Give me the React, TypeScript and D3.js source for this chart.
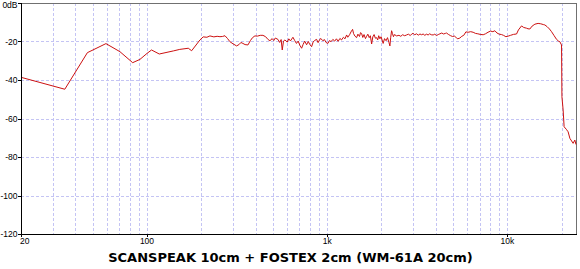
import React from "react";
import * as d3 from "d3";

const freqs: number[] = [
  20, 35, 46.7, 59.2, 70.8, 83.3, 91.4, 100, 106, 117, 140, 152, 169.5, 176.9, 196.7,
  205, 215, 223.5, 235, 245, 254, 262, 270.8, 280, 288.6, 300, 314.4, 325, 332, 340.6, 350, 363.1,
  375, 385, 397, 410, 425, 439.8, 455, 470, 481, 495, 505, 515, 532.6, 545, 555, 562.9, 572, 582.6,
  600, 612, 625, 645.3, 660, 675, 690, 705, 721, 735, 750, 768.4, 785, 800, 819.2, 835, 850, 873,
  890, 905, 920, 946, 965, 985, 1008, 1030, 1050, 1075, 1100, 1125, 1150, 1176, 1200, 1230, 1255,
  1281, 1300, 1330, 1355, 1383, 1400, 1425, 1455, 1480, 1510, 1530, 1551, 1575, 1600, 1630, 1654,
  1680, 1710, 1735, 1763, 1790, 1820, 1850, 1879, 1905, 1930, 1960, 1990, 2043, 2080, 2120, 2160,
  2200, 2227, 2250, 2276, 2300, 2330, 2360, 2426, 2500, 2560, 2620, 2690, 2756, 2820, 2890, 2950,
  2998, 3060, 3130, 3200, 3270, 3340, 3405, 3480, 3550, 3630, 3700, 3780, 3870, 3950, 4040, 4130,
  4220, 4320, 4420, 4520, 4592, 4700, 4820, 4950, 5080, 5200, 5300, 5443, 5580, 5720, 5880, 6050,
  6250, 6451, 6650, 6850, 7050, 7331, 7550, 7800, 8050, 8300, 8511, 8750, 9000, 9273, 9500, 9800,
  10090, 10400, 10800, 11230, 11500, 11970, 12300, 12760, 13000, 13310, 13700, 14200, 14790, 15300,
  15800, 16120, 16600, 17100, 17560, 18100, 18720, 19200, 19520, 19950, 20050, 20360, 20620, 21200,
  21700, 22190, 23140, 23650, 24000,
];

const levels: number[] = [
  -38.6, -44.8, -25.8, -21.1, -25.3, -31, -29.3, -26.2, -24.4, -26.5, -24.9, -24.1, -23.5, -24.8, -19.2,
  -17.6, -17.8, -17.1, -17.6, -17.3, -17.5, -17.4, -17.0, -18.5, -20.1, -21.2, -22.3, -21.5, -20.5, -21.0, -21.6, -21.8,
  -19.5, -18.0, -17.1, -17.2, -16.8, -16.8, -17.5, -19.0, -19.6, -18.5, -19.5, -18.2, -18.9, -20.5, -19.0, -24.4, -19.8, -19.2,
  -20.3, -18.6, -19.7, -17.8, -19.5, -21.0, -19.8, -22.0, -23.5, -21.5, -19.8, -21.7, -20.0, -21.5, -22.7, -20.3, -19.5, -18.9,
  -20.6, -19.3, -18.4, -19.6, -19.0, -20.5, -21.0, -19.5, -20.1, -18.9, -19.8, -18.6, -19.9, -18.4, -19.2, -17.8, -18.6,
  -16.6, -17.8, -16.5, -15.0, -13.7, -15.9, -17.2, -18.0, -16.2, -17.4, -15.4, -15.8, -17.9, -16.4, -18.5, -17.3,
  -16.2, -18.0, -17.0, -21.3, -17.6, -16.4, -18.3, -18.0, -19.2, -17.0, -18.6, -17.5, -21.0, -18.5, -19.6, -18.0,
  -20.5, -22.3, -17.8, -14.4, -15.8, -17.5, -16.4, -17.1, -16.8, -17.3, -16.5, -17.0, -16.6, -16.2, -16.9, -16.0,
  -15.8, -16.5, -16.0, -16.7, -16.1, -16.5, -16.1, -16.8, -16.2, -16.6, -16.0, -16.5, -16.6, -16.2, -16.9, -16.4,
  -16.0, -15.6, -16.1, -15.8, -15.6, -16.3, -16.9, -17.4, -17.2, -18.0, -18.6, -18.2, -17.3, -16.8, -15.0, -15.2,
  -14.9, -15.2, -15.8, -16.0, -16.3, -16.5, -16.0, -15.2, -14.6, -14.9, -14.4, -15.6, -16.2, -16.4, -16.8, -17.5,
  -17.2, -16.8, -16.3, -16.1, -14.0, -11.9, -12.7, -13.1, -13.4, -13.5, -12.0, -11.0, -10.6, -10.8,
  -11.2, -11.4, -12.3, -13.5, -14.9, -16.8, -18.9, -19.8, -20.1, -21.8, -48.7, -55.6, -64.3, -65.6,
  -66.9, -70.3, -72.9, -71.2, -73.5,
];

const yTicks: number[] = [0, -20, -40, -60, -80, -100, -120];
const yTickLabels: string[] = ["0dB", "-20", "-40", "-60", "-80", "-100", "-120"];
const xTicks: number[] = [20, 100, 1000, 10000];
const xTickLabels: string[] = ["20", "100", "1k", "10k"];
const title = "SCANSPEAK 10cm + FOSTEX 2cm (WM-61A 20cm)";

export default function App() {
  const W = 580, H = 269;
  const left = 21, right = 576, top = 3, bottom = 234;
  const x = d3.scaleLog().domain([20, 24000]).range([left, right]);
  const y = d3.scaleLinear().domain([-120, 0]).range([bottom, top]);

  const gridX: number[] = [];
  for (let dec = 10; dec <= 10000; dec *= 10) {
    for (let m = 1; m <= 9; m++) {
      const f = dec * m;
      if (f > 20 && f < 24000) gridX.push(f);
    }
  }
  gridX.push(20000);
  const gridY = [-20, -40, -60, -80, -100];

  const pts: [number, number][] = freqs.map((f, i) => [f, levels[i]]);
  const line = d3
    .line<[number, number]>()
    .x((d) => x(d[0]))
    .y((d) => y(d[1]));

  const gridColor = "#c4c4f4";
  const lblFont = "'Liberation Sans', Arial, sans-serif";

  return (
    <svg
      width={W}
      height={H}
      style={{ position: "absolute", left: 0, top: 0, background: "#fff" }}
    >
      <rect x={0} y={0} width={W} height={H} fill="#fff" />
      {gridX.map((f) => (
        <line
          key={"gx" + f}
          x1={Math.round(x(f)) + 0.5}
          x2={Math.round(x(f)) + 0.5}
          y1={top}
          y2={bottom}
          stroke={gridColor}
          strokeWidth={1}
          strokeDasharray="3,2"
        />
      ))}
      {gridY.map((v) => (
        <line
          key={"gy" + v}
          x1={left}
          x2={right}
          y1={Math.round(y(v)) + 0.5}
          y2={Math.round(y(v)) + 0.5}
          stroke={gridColor}
          strokeWidth={1}
          strokeDasharray="3,2"
        />
      ))}
      {/* frame */}
      <line x1={left} x2={right + 0.5} y1={top + 0.5} y2={top + 0.5} stroke="#707070" />
      <line x1={right + 0.5} x2={right + 0.5} y1={top} y2={bottom} stroke="#707070" />
      <path d={line(pts) || ""} fill="none" stroke="#cc1111" strokeWidth={1} />
      <line x1={left + 0.5} x2={left + 0.5} y1={top} y2={bottom + 1} stroke="#000" />
      <line x1={left} x2={right + 1} y1={bottom + 0.5} y2={bottom + 0.5} stroke="#000" />
      {yTicks.map((v, i) => (
        <g key={"yt" + v}>
          <line
            x1={left - 3}
            x2={left}
            y1={Math.round(y(v)) + 0.5}
            y2={Math.round(y(v)) + 0.5}
            stroke="#000"
          />
          <text
            x={17.5}
            y={v === 0 ? 8 : y(v) + 3.2}
            fontSize={8.5}
            fontFamily={lblFont}
            textAnchor="end"
            fill="#000"
          >
            {yTickLabels[i]}
          </text>
        </g>
      ))}
      {xTicks.map((f, i) => (
        <g key={"xt" + f}>
          <line
            x1={Math.round(x(f)) + 0.5}
            x2={Math.round(x(f)) + 0.5}
            y1={bottom}
            y2={bottom + 3}
            stroke="#000"
          />
          <text
            x={i === 0 ? x(f) - 1 : x(f)}
            y={243.5}
            fontSize={8.5}
            fontFamily={lblFont}
            textAnchor={i === 0 ? "start" : "middle"}
            fill="#000"
          >
            {xTickLabels[i]}
          </text>
        </g>
      ))}
      <text
        x={290.5}
        y={262}
        fontSize={13}
        fontWeight="bold"
        fontFamily="'DejaVu Sans', Verdana, sans-serif"
        textAnchor="middle"
        fill="#000"
      >
        {title}
      </text>
    </svg>
  );
}
